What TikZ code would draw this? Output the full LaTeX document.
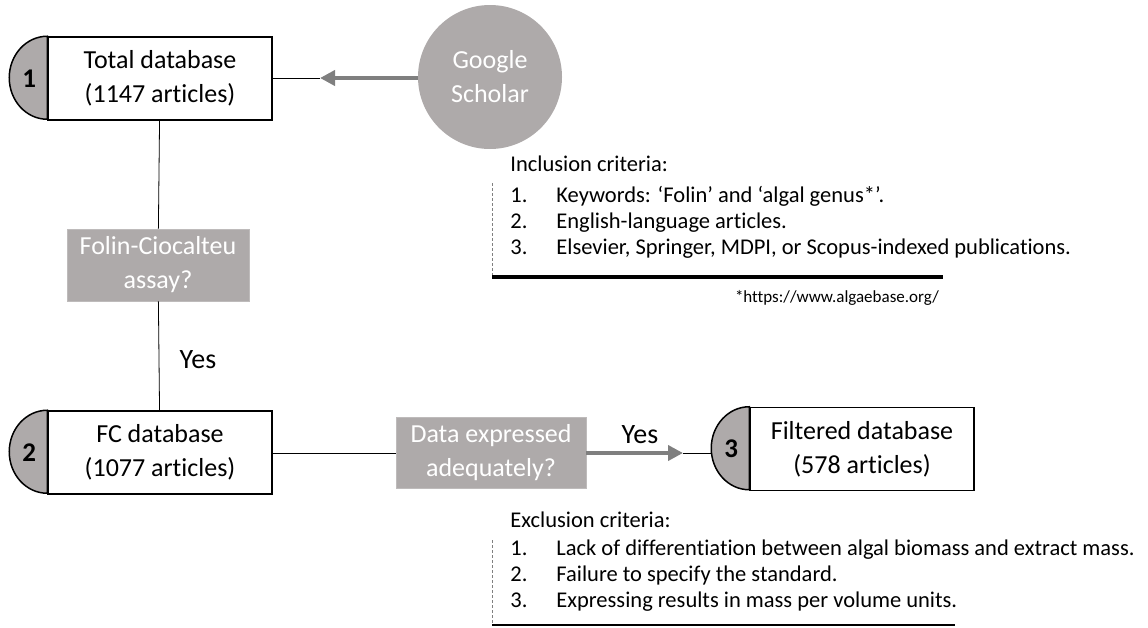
\documentclass[tikz,border=0pt]{standalone}
\usepackage{fontspec}
\setmainfont{Carlito}[Ligatures=NoCommon]
\usepackage{xcolor}
\usepackage{tikz}
\usetikzlibrary{positioning, arrows.meta, calc}
\definecolor{boxgray}{HTML}{AEAAAA}
\definecolor{arrowgray}{HTML}{7F7F7F}
\tikzstyle{db}=[%
      rectangle, draw=black, line width=1.5pt, fill=white,
      minimum width=224pt, minimum height=83pt, inner sep=4pt, align=center,
      font=\fontsize{26}{34}\selectfont
]
\tikzstyle{num}=[%
      inner sep=0pt, font=\fontsize{27}{30}\selectfont\bfseries
]
\tikzstyle{qu}=[%
      rectangle, fill=boxgray, draw=boxgray!80, text=white, align=center,
      inner sep=4pt, font=\fontsize{26}{34}\selectfont
]
\tikzstyle{src}=[%
      circle, fill=boxgray, text=white, align=center, minimum size=144pt,
      inner sep=0pt, font=\fontsize{26}{34}\selectfont
]
\tikzstyle{garrow}=[%
      draw=arrowgray, line width=4pt, -{Triangle[length=15pt,width=15pt]}
]
\tikzstyle{crit}=[%
      anchor=base west, inner sep=0pt, font=\fontsize{22.5}{26}\selectfont
]

\begin{document}
\begin{tikzpicture}[x=1pt, y=-1pt, line width=0.8pt]
    \useasboundingbox (0,0) rectangle (1148,627);

    \node[db]  (t1) at (160,78.5)  {Total database\\(1147 articles)};
    \node[db]  (t2) at (160,452.5) {FC database\\(1077 articles)};
    \node[db]  (t3) at (862,449)   {Filtered database\\(578 articles)};

    \foreach \n in {1,2,3}
        \draw[line width=1.5pt, fill=boxgray] (t\n.north west)
            arc[start angle=90, end angle=270, x radius=38pt, y radius=41.5pt] -- cycle;

    \node[num] (n1) at ($(t1.west)+(-18,0)$) {1};
    \node[num] (n2) at ($(t2.west)+(-18,0)$) {2};
    \node[num] (n3) at ($(t3.west)+(-18,0)$) {3};

    \node[src] (gs) at (490,77) {Google\\Scholar};
    \node[qu, minimum width=182pt, minimum height=72pt] (q1) at (158,265)
        {Folin-Ciocalteu\\assay?};
    \node[qu, minimum width=190pt, minimum height=71pt] (q2) at (491,453)
        {Data expressed\\adequately?};

    \coordinate (a1) at (320,78);
    \coordinate (a2) at (683,453);
    \coordinate (c3) at (712,453);

    \draw (t1.east |- a1) -- (a1);
    \draw[garrow] (gs.west |- a1) -- (a1);
    \draw (t1) -- (q1);
    \draw (q1) -- (t2);
    \draw (t2.east |- q2) -- (q2);
    \draw[garrow] (q2.east) -- (a2);
    \draw (a2) -- (c3);

    \node[font=\fontsize{28}{30}\selectfont] (y1) at (198,360) {Yes};
    \node[font=\fontsize{28}{30}\selectfont] (y2) at (640,435) {Yes};

    % inclusion criteria
    \node[crit] (inc) at (510,171) {\begin{tabular}[t]{@{}l@{}}
        Inclusion criteria:\\[5pt]
        \makebox[46pt][l]{1.}Keywords: ‘Folin’ and ‘algal genus*’.\\
        \makebox[46pt][l]{2.}English-language articles.\\
        \makebox[46pt][l]{3.}Elsevier, Springer, MDPI, or Scopus-indexed publications.
        \end{tabular}};
    \draw[gray, line width=0.6pt, densely dashed] (492,183) -- (492,277);
    \draw[line width=4pt] (492,277) -- (943,277);
    \node[font=\fontsize{17}{20}\selectfont] (fn) at (837,298) {*https://www.algaebase.org/};

    % exclusion criteria
    \node[crit] (exc) at (510,527) {\begin{tabular}[t]{@{}l@{}}
        Exclusion criteria:\\[2pt]
        \makebox[46pt][l]{1.}Lack of differentiation between algal biomass and extract mass.\\
        \makebox[46pt][l]{2.}Failure to specify the standard.\\
        \makebox[46pt][l]{3.}Expressing results in mass per volume units.
        \end{tabular}};
    \draw[gray, line width=0.6pt, densely dashed] (492,540) -- (492,625);
    \draw[line width=1.2pt] (492,625) -- (955,625);
\end{tikzpicture}
\end{document}
